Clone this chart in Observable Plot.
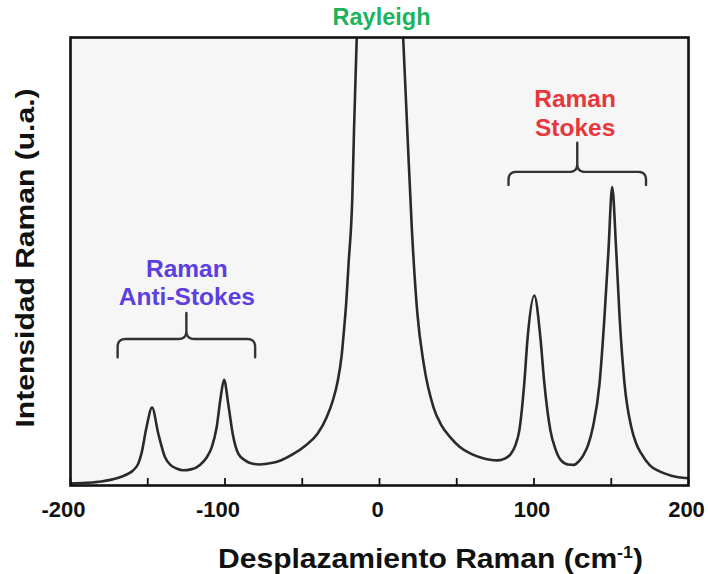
<!DOCTYPE html>
<html>
<head>
<meta charset="utf-8">
<script src="https://cdn.jsdelivr.net/npm/d3@7"></script>
<script src="https://cdn.jsdelivr.net/npm/@observablehq/plot@0.6"></script>
<style>
html, body { margin: 0; padding: 0; background: #fff; }
#chart { width: 708px; height: 574px; }
</style>
</head>
<body>
<div id="chart"></div>
<script>
// Spectrum (Raman shift in cm-1, intensity in arbitrary units)
const ramanShift = [
  -200, -190, -180, -170, -164, -159.7, -156, -154.1, -150.8, -147.2, -143.2, -138.8, -135, -131.4, -127,
  -122, -116.2, -112, -108.6, -105.4, -102.8, -100.6, -97.9, -95.0, -91.4, -87, -83.8, -78, -70, -64,
  -56, -48, -40, -34, -30, -27, -24.5, -23, -21.5, -20, -17.6, -16.5, -14.8, -12, -6, 0, 6, 13,
  15.4, 18, 21, 24.5, 28.6, 35, 40, 46, 52, 59, 66, 76.4, 81, 85.1, 88, 90.5, 93.7, 95.9, 100.2,
  104.1, 106.7, 110.6, 114, 117.5, 122, 126, 129, 132, 135, 138.1, 142.4, 145.6, 148.2, 150.6,
  153.2, 155.4, 158.6, 163, 166, 169.5, 175, 180.3, 188.9, 200
];
const intensity = [
  0.45, 0.6, 0.9, 1.6, 2.4, 3.3, 5.0, 7.1, 13.0, 17.4, 11.6, 6.3, 4.5, 3.8, 3.4,
  3.6, 4.6, 6.2, 8.5, 13.0, 19.7, 23.6, 18.2, 11.5, 7.1, 5.6, 5.0, 4.7, 5.0, 5.6,
  7.0, 8.9, 11.6, 15.4, 19.2, 23.4, 29, 34.6, 41, 49.6, 64.3, 79.2, 99.3, 115, 135, 140, 135, 115,
  99.3, 79.2, 56.9, 38.4, 27.2, 17.4, 13.5, 10.7, 8.6, 7.1, 6.2, 5.6, 6.0, 7.1, 9.0, 12.3, 22.8, 33.1, 42.4,
  33.1, 22.8, 12.3, 8.0, 5.6, 4.7, 4.6, 5.4, 6.8, 9.0, 13.0, 22.7, 37.6, 52.5, 66.6,
  52.5, 37.6, 22.7, 13.0, 9.5, 7.1, 4.5, 3.3, 2.2, 1.6
];

// Axis ticks
const xTicks = [-200, -150, -100, -50, 0, 50, 100, 150, 200];
const xTickLabels = [-200, -100, 0, 100, 200];
const xLabelMain = "Desplazamiento Raman (cm";
const xLabelSup = "-1";
const xLabelEnd = ")";
const yLabel = "Intensidad Raman (u.a.)";

// Annotations
const annotationText = ["Rayleigh", "Raman\nAnti-Stokes", "Raman\nStokes"];
const annotationX = [1.3, -124.7, 126.6];
const annotationY = [102.7, 40.2, 78.1];
const annotationColor = ["#1db35a", "#5b3fe0", "#e8363d"];
const annotationSize = [23.5, 24.5, 24.5];

// Braces (x extent, foot level, bar level, tip level)
const braceStart = [-169.5, 83.5];
const braceEnd = [-80.5, 172.5];
const braceFoot = [28.6, 67.1];
const braceBar = [32.7, 70.0];
const braceTip = [38.5, 76.5];

const W = 708, H = 574, mL = 70, mR = 20, mT = 37, mB = 89;
const kx = (W - mL - mR) / 400, ky = (H - mT - mB) / 100;

const spectrum = ramanShift.map((x, i) => ({x, y: intensity[i]}));
const annotations = annotationText.map((t, i) => ({t, x: annotationX[i], y: annotationY[i], c: annotationColor[i], s: annotationSize[i]}));

function quad(p0, p1, p2, n = 8) {
  const out = [];
  for (let k = 0; k <= n; k++) {
    const t = k / n, u = 1 - t;
    out.push([u * u * p0[0] + 2 * u * t * p1[0] + t * t * p2[0], u * u * p0[1] + 2 * u * t * p1[1] + t * t * p2[1]]);
  }
  return out;
}
function brace(i) {
  const x1 = braceStart[i], x2 = braceEnd[i], xm = (x1 + x2) / 2;
  const f = braceFoot[i], b = braceBar[i], tip = braceTip[i];
  const cx = 8 / kx, cy = 8 / ky;
  const pts = [];
  pts.push([x1, f]);
  pts.push(...quad([x1, b - cy], [x1, b], [x1 + cx, b]));
  pts.push(...quad([xm - cx, b], [xm, b], [xm, b + cy]));
  pts.push([xm, tip]);
  pts.push(...quad([xm, b + cy], [xm, b], [xm + cx, b]));
  pts.push(...quad([x2 - cx, b], [x2, b], [x2, b - cy]));
  pts.push([x2, f]);
  return pts.map(([x, y]) => ({x, y, id: i}));
}
const braceData = braceStart.flatMap((_, i) => brace(i));

const font = "'Liberation Sans', Arial, Helvetica, sans-serif";
const fmt = d => d < 0 ? "-" + Math.abs(d) : String(d);
const xLabelFull = xLabelMain + xLabelSup + xLabelEnd;

const plot = Plot.plot({
  width: W, height: H,
  marginLeft: mL, marginRight: mR, marginTop: mT, marginBottom: mB,
  x: {domain: [-200, 200], axis: null},
  y: {domain: [0, 100], axis: null},
  style: {fontFamily: font, background: "#fff", overflow: "visible"},
  marks: [
    Plot.frame({fill: "#f6f6f6", stroke: null}),
    Plot.line(spectrum, {x: "x", y: "y", curve: "monotone-x", stroke: "#2a2a2a", strokeWidth: 2.6, clip: true}),
    Plot.ruleX(xTicks, {x: d => d, y1: 0, y2: 7 / ky, stroke: "#111", strokeWidth: 1.8}),
    Plot.line(braceData, {x: "x", y: "y", z: "id", stroke: "#333", strokeWidth: 2.4, curve: "linear"}),
    Plot.frame({stroke: "#111", strokeWidth: 2.6}),
    Plot.text(xTickLabels.filter(d => d < 0), {
      x: d => d, frameAnchor: "bottom", text: fmt,
      lineAnchor: "top", dy: 16, dx: -7, fontSize: 22, fontWeight: "bold", fill: "#111"
    }),
    Plot.text(xTickLabels.filter(d => d >= 0), {
      x: d => d, frameAnchor: "bottom", text: fmt,
      lineAnchor: "top", dy: 16, dx: -2, fontSize: 22, fontWeight: "bold", fill: "#111"
    }),
    Plot.text([xLabelFull], {text: d => d, frameAnchor: "bottom", textAnchor: "middle", dx: 51, dy: 82, lineAnchor: "bottom", fontSize: 27, fontWeight: "bold", fill: "#111"}),
    Plot.text([yLabel], {text: d => d, frameAnchor: "left", textAnchor: "middle", lineAnchor: "middle", rotate: -90, dx: -45, dy: -3.5, fontSize: 25, fontWeight: "bold", fill: "#111"}),
    Plot.text(annotations, {x: "x", y: "y", text: "t", fill: "c", fontSize: "s", fontWeight: "bold", lineAnchor: "bottom", lineHeight: 1.15})
  ]
});

const NS = "http://www.w3.org/2000/svg";
plot.querySelectorAll("text").forEach(t => {
  if (t.textContent === xLabelFull) {
    t.textContent = "";
    const a = document.createElementNS(NS, "tspan"); a.textContent = xLabelMain;
    const b = document.createElementNS(NS, "tspan"); b.textContent = xLabelSup;
    b.setAttribute("font-size", "16"); b.setAttribute("dy", "-10");
    const c = document.createElementNS(NS, "tspan"); c.textContent = xLabelEnd; c.setAttribute("dy", "10");
    t.append(a, b, c);
    t.setAttribute("textLength", 425); t.setAttribute("lengthAdjust", "spacingAndGlyphs");
  }
  if (t.textContent === yLabel) { t.setAttribute("textLength", 339); t.setAttribute("lengthAdjust", "spacingAndGlyphs"); }
});

document.getElementById("chart").appendChild(plot);
</script>
</body>
</html>
